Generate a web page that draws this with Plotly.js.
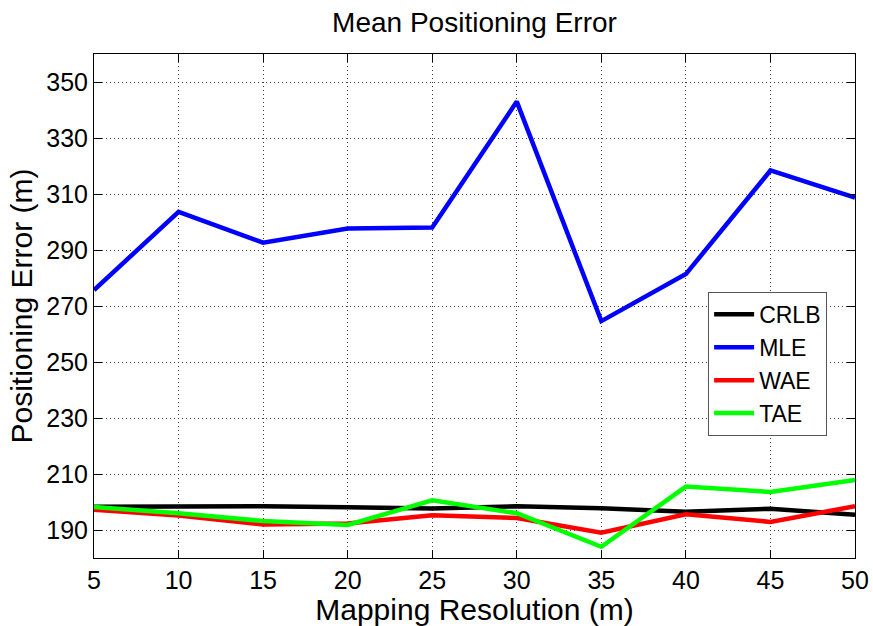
<!DOCTYPE html>
<html>
<head>
<meta charset="utf-8">
<script src="https://cdn.plot.ly/plotly-3.0.1.min.js"></script>
<style>html,body{margin:0;padding:0;background:#fff;}#chart{width:873px;height:626px;}</style>
</head>
<body>
<div id="chart"></div>
<script>
const resolution = [5, 10, 15, 20, 25, 30, 35, 40, 45, 50];
const crlb = [198.3, 198.4, 198.5, 198.1, 197.7, 198.5, 197.8, 196.5, 197.6, 195.4];
const mle  = [275.7, 303.6, 292.6, 297.7, 298.0, 343.0, 264.6, 281.4, 318.4, 308.7];
const wae  = [197.2, 195.2, 192.0, 192.3, 195.3, 194.3, 189.0, 195.6, 192.9, 198.5];
const tae  = [198.2, 196.0, 193.2, 191.8, 200.6, 196.0, 184.0, 205.5, 203.6, 207.9];
const seriesNames = ["CRLB", "MLE", "WAE", "TAE"];
const seriesColors = ["#000000", "#0000ff", "#ff0000", "#00ff00"];
const xTicks = [5, 10, 15, 20, 25, 30, 35, 40, 45, 50];
const yTicks = [190, 210, 230, 250, 270, 290, 310, 330, 350];

const allY = [crlb, mle, wae, tae];
const traces = allY.map((ys, i) => ({
  x: resolution, y: ys, type: 'scatter', mode: 'lines', name: seriesNames[i],
  line: {color: seriesColors[i], width: 4.5}
}));

const font = 'Liberation Sans, Arial, sans-serif';
const layout = {
  width: 873, height: 626,
  margin: {l: 94, r: 18, t: 54, b: 68},
  paper_bgcolor: '#fff', plot_bgcolor: '#fff',
  title: {text: 'Mean Positioning Error', font: {family: font, size: 28, color: '#000'},
          xref: 'paper', x: 0.5, xanchor: 'center', yref: 'container', y: 0.964, yanchor: 'middle'},
  showlegend: true,
  legend: {x: 0.807, y: 0.528, xanchor: 'left', yanchor: 'top', bgcolor: '#fff', bordercolor: '#555', borderwidth: 1,
           font: {family: font, size: 23, color: '#000'}, tracegroupgap: 0, itemwidth: 40},
  xaxis: {
    range: [5, 50], tickvals: xTicks, ticktext: xTicks.map(String),
    ticks: 'inside', ticklen: 8, tickcolor: '#000', showline: true, linecolor: '#000', linewidth: 1, mirror: 'ticks',
    showgrid: true, gridcolor: '#444', griddash: '1px,3px', gridwidth: 1, zeroline: false,
    tickfont: {family: font, size: 25, color: '#000'},
    title: {text: 'Mapping Resolution (m)', font: {family: font, size: 30, color: '#000'}, standoff: 1}
  },
  yaxis: {
    range: [180, 360], tickvals: yTicks, ticktext: yTicks.map(String),
    ticks: 'inside', ticklen: 8, tickcolor: '#000', showline: true, linecolor: '#000', linewidth: 1, mirror: 'ticks',
    showgrid: true, gridcolor: '#444', griddash: '1px,3px', gridwidth: 1, zeroline: false,
    tickfont: {family: font, size: 25, color: '#000'},
    title: {text: 'Positioning Error (m)', font: {family: font, size: 30, color: '#000'}, standoff: 4}
  }
};
Plotly.newPlot('chart', traces, layout, {displayModeBar: false, staticPlot: true});
</script>
</body>
</html>
